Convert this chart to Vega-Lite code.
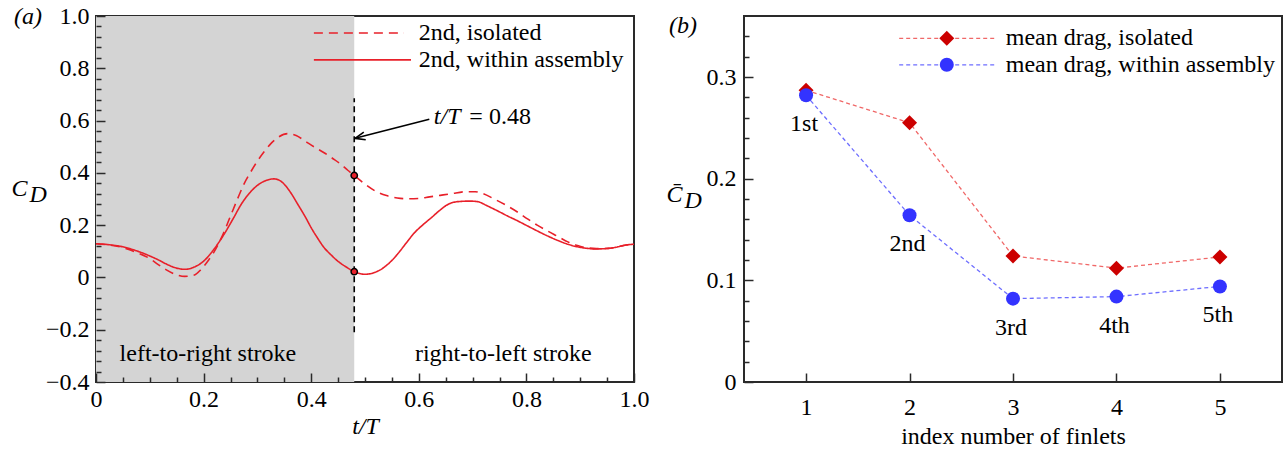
{
  "$schema": "https://vega.github.io/schema/vega-lite/v6.json",
  "background": "white",
  "padding": {"left": 10, "top": 3, "right": 0, "bottom": 0},
  "bounds": "flush",
  "spacing": 110,
  "config": {
    "font": "Liberation Serif",
    "view": {"stroke": "#2a2a2a", "strokeWidth": 2},
    "axis": {"domain": false, "labelFont": "Liberation Serif", "labelFontSize": 24, "labelColor": "#000", "titleFont": "Liberation Serif", "titleFontSize": 24, "titleFontWeight": "normal", "titleColor": "#000", "labelFlush": false},
    "text": {"font": "Liberation Serif", "fontSize": 24, "color": "#000"},
    "title": {"font": "Liberation Serif", "fontSize": 24, "fontWeight": "normal", "color": "#000"}
  },
  "datasets": {
    "cd": [
      {"t":0,"cd":0.129,"series":"2nd, within assembly"},{"t":0.025,"cd":0.125,"series":"2nd, within assembly"},{"t":0.05,"cd":0.117,"series":"2nd, within assembly"},{"t":0.075,"cd":0.102,"series":"2nd, within assembly"},{"t":0.1,"cd":0.082,"series":"2nd, within assembly"},{"t":0.115,"cd":0.068,"series":"2nd, within assembly"},{"t":0.13,"cd":0.052,"series":"2nd, within assembly"},{"t":0.146,"cd":0.038,"series":"2nd, within assembly"},{"t":0.165,"cd":0.031,"series":"2nd, within assembly"},{"t":0.183,"cd":0.04,"series":"2nd, within assembly"},{"t":0.2,"cd":0.062,"series":"2nd, within assembly"},{"t":0.22,"cd":0.11,"series":"2nd, within assembly"},{"t":0.238,"cd":0.165,"series":"2nd, within assembly"},{"t":0.255,"cd":0.225,"series":"2nd, within assembly"},{"t":0.27,"cd":0.28,"series":"2nd, within assembly"},{"t":0.285,"cd":0.322,"series":"2nd, within assembly"},{"t":0.3,"cd":0.352,"series":"2nd, within assembly"},{"t":0.315,"cd":0.37,"series":"2nd, within assembly"},{"t":0.331,"cd":0.377,"series":"2nd, within assembly"},{"t":0.345,"cd":0.366,"series":"2nd, within assembly"},{"t":0.36,"cd":0.33,"series":"2nd, within assembly"},{"t":0.375,"cd":0.28,"series":"2nd, within assembly"},{"t":0.39,"cd":0.228,"series":"2nd, within assembly"},{"t":0.4,"cd":0.19,"series":"2nd, within assembly"},{"t":0.412,"cd":0.15,"series":"2nd, within assembly"},{"t":0.424,"cd":0.114,"series":"2nd, within assembly"},{"t":0.437,"cd":0.086,"series":"2nd, within assembly"},{"t":0.449,"cd":0.063,"series":"2nd, within assembly"},{"t":0.465,"cd":0.04,"series":"2nd, within assembly"},{"t":0.48,"cd":0.022,"series":"2nd, within assembly"},{"t":0.49,"cd":0.015,"series":"2nd, within assembly"},{"t":0.5,"cd":0.012,"series":"2nd, within assembly"},{"t":0.515,"cd":0.017,"series":"2nd, within assembly"},{"t":0.53,"cd":0.031,"series":"2nd, within assembly"},{"t":0.545,"cd":0.055,"series":"2nd, within assembly"},{"t":0.56,"cd":0.088,"series":"2nd, within assembly"},{"t":0.576,"cd":0.13,"series":"2nd, within assembly"},{"t":0.592,"cd":0.171,"series":"2nd, within assembly"},{"t":0.608,"cd":0.202,"series":"2nd, within assembly"},{"t":0.623,"cd":0.228,"series":"2nd, within assembly"},{"t":0.638,"cd":0.255,"series":"2nd, within assembly"},{"t":0.654,"cd":0.279,"series":"2nd, within assembly"},{"t":0.666,"cd":0.288,"series":"2nd, within assembly"},{"t":0.68,"cd":0.291,"series":"2nd, within assembly"},{"t":0.695,"cd":0.292,"series":"2nd, within assembly"},{"t":0.709,"cd":0.29,"series":"2nd, within assembly"},{"t":0.728,"cd":0.273,"series":"2nd, within assembly"},{"t":0.745,"cd":0.256,"series":"2nd, within assembly"},{"t":0.765,"cd":0.235,"series":"2nd, within assembly"},{"t":0.785,"cd":0.215,"series":"2nd, within assembly"},{"t":0.802,"cd":0.197,"series":"2nd, within assembly"},{"t":0.82,"cd":0.178,"series":"2nd, within assembly"},{"t":0.84,"cd":0.158,"series":"2nd, within assembly"},{"t":0.86,"cd":0.14,"series":"2nd, within assembly"},{"t":0.877,"cd":0.127,"series":"2nd, within assembly"},{"t":0.895,"cd":0.117,"series":"2nd, within assembly"},{"t":0.914,"cd":0.111,"series":"2nd, within assembly"},{"t":0.93,"cd":0.109,"series":"2nd, within assembly"},{"t":0.952,"cd":0.111,"series":"2nd, within assembly"},{"t":0.97,"cd":0.117,"series":"2nd, within assembly"},{"t":0.985,"cd":0.124,"series":"2nd, within assembly"},{"t":1,"cd":0.127,"series":"2nd, within assembly"},
      {"t":0,"cd":0.129,"series":"2nd, isolated"},{"t":0.025,"cd":0.124,"series":"2nd, isolated"},{"t":0.05,"cd":0.114,"series":"2nd, isolated"},{"t":0.075,"cd":0.096,"series":"2nd, isolated"},{"t":0.1,"cd":0.072,"series":"2nd, isolated"},{"t":0.115,"cd":0.05,"series":"2nd, isolated"},{"t":0.13,"cd":0.03,"series":"2nd, isolated"},{"t":0.146,"cd":0.013,"series":"2nd, isolated"},{"t":0.165,"cd":0.004,"series":"2nd, isolated"},{"t":0.183,"cd":0.009,"series":"2nd, isolated"},{"t":0.195,"cd":0.03,"series":"2nd, isolated"},{"t":0.207,"cd":0.06,"series":"2nd, isolated"},{"t":0.22,"cd":0.1,"series":"2nd, isolated"},{"t":0.235,"cd":0.16,"series":"2nd, isolated"},{"t":0.251,"cd":0.24,"series":"2nd, isolated"},{"t":0.263,"cd":0.3,"series":"2nd, isolated"},{"t":0.275,"cd":0.357,"series":"2nd, isolated"},{"t":0.288,"cd":0.405,"series":"2nd, isolated"},{"t":0.3,"cd":0.445,"series":"2nd, isolated"},{"t":0.313,"cd":0.482,"series":"2nd, isolated"},{"t":0.325,"cd":0.512,"series":"2nd, isolated"},{"t":0.34,"cd":0.538,"series":"2nd, isolated"},{"t":0.356,"cd":0.55,"series":"2nd, isolated"},{"t":0.372,"cd":0.543,"series":"2nd, isolated"},{"t":0.387,"cd":0.524,"series":"2nd, isolated"},{"t":0.405,"cd":0.5,"series":"2nd, isolated"},{"t":0.424,"cd":0.477,"series":"2nd, isolated"},{"t":0.44,"cd":0.455,"series":"2nd, isolated"},{"t":0.455,"cd":0.433,"series":"2nd, isolated"},{"t":0.468,"cd":0.41,"series":"2nd, isolated"},{"t":0.48,"cd":0.39,"series":"2nd, isolated"},{"t":0.5,"cd":0.357,"series":"2nd, isolated"},{"t":0.517,"cd":0.333,"series":"2nd, isolated"},{"t":0.54,"cd":0.313,"series":"2nd, isolated"},{"t":0.56,"cd":0.304,"series":"2nd, isolated"},{"t":0.58,"cd":0.301,"series":"2nd, isolated"},{"t":0.6,"cd":0.302,"series":"2nd, isolated"},{"t":0.62,"cd":0.308,"series":"2nd, isolated"},{"t":0.64,"cd":0.314,"series":"2nd, isolated"},{"t":0.66,"cd":0.32,"series":"2nd, isolated"},{"t":0.689,"cd":0.328,"series":"2nd, isolated"},{"t":0.705,"cd":0.328,"series":"2nd, isolated"},{"t":0.72,"cd":0.32,"series":"2nd, isolated"},{"t":0.74,"cd":0.3,"series":"2nd, isolated"},{"t":0.765,"cd":0.273,"series":"2nd, isolated"},{"t":0.785,"cd":0.248,"series":"2nd, isolated"},{"t":0.802,"cd":0.224,"series":"2nd, isolated"},{"t":0.82,"cd":0.2,"series":"2nd, isolated"},{"t":0.84,"cd":0.177,"series":"2nd, isolated"},{"t":0.86,"cd":0.155,"series":"2nd, isolated"},{"t":0.877,"cd":0.136,"series":"2nd, isolated"},{"t":0.895,"cd":0.122,"series":"2nd, isolated"},{"t":0.914,"cd":0.113,"series":"2nd, isolated"},{"t":0.93,"cd":0.11,"series":"2nd, isolated"},{"t":0.952,"cd":0.111,"series":"2nd, isolated"},{"t":0.97,"cd":0.117,"series":"2nd, isolated"},{"t":0.985,"cd":0.124,"series":"2nd, isolated"},{"t":1,"cd":0.127,"series":"2nd, isolated"}
    ],
    "mean": [
      {"idx":1,"val":0.287,"series":"isolated"},{"idx":2,"val":0.255,"series":"isolated"},{"idx":3,"val":0.124,"series":"isolated"},{"idx":4,"val":0.112,"series":"isolated"},{"idx":5,"val":0.123,"series":"isolated"},
      {"idx":1,"val":0.282,"series":"assembly","label":"1st"},{"idx":2,"val":0.164,"series":"assembly","label":"2nd"},{"idx":3,"val":0.082,"series":"assembly","label":"3rd"},{"idx":4,"val":0.084,"series":"assembly","label":"4th"},{"idx":5,"val":0.094,"series":"assembly","label":"5th"}
    ]
  },
  "hconcat": [
    {
      "width": 538,
      "height": 366,
      "title": {"text": "(a)", "anchor": "start", "frame": "group", "dx": -82, "offset": -25, "fontStyle": "italic"},
      "resolve": {"scale": {"x": "independent", "y": "independent"}},
      "layer": [
        {
          "layer": [
            {
              "data": {"values": [{}]},
              "mark": {"type": "rect", "color": "#d4d4d4"},
              "encoding": {"x": {"datum": 0, "type": "quantitative"}, "x2": {"datum": 0.48}}
            },
            {
              "data": {"name": "cd"},
              "mark": {"type": "line", "color": "#e8202a", "strokeWidth": 1.6, "interpolate": "monotone"},
              "encoding": {
                "x": {"field": "t", "type": "quantitative", "scale": {"domain": [0, 1], "nice": false, "zero": false},
                  "axis": {
                    "values": [0,0.2,0.4,0.6,0.8,1.0],
                    "labelExpr": "datum.value==0 ? '0' : format(datum.value,'.1f')",
                    "labelOverlap": false, "grid": false, "ticks": true, "tickSize": -9, "tickColor": "#2a2a2a", "tickWidth": 1.5, "zindex": 1,
                    "labelPadding": 14,
                    "title": "t/T", "titleFontStyle": "italic", "titleBaseline": "alphabetic", "titleY": 51
                  }},
                "y": {"field": "cd", "type": "quantitative", "scale": {"domain": [-0.4, 1.0], "nice": false, "zero": false},
                  "axis": {
                    "values": [-0.4,-0.2,0,0.2,0.4,0.6,0.8,1.0],
                    "labelExpr": "abs(datum.value)<0.001 ? '0' : format(datum.value,'.1f')",
                    "labelOverlap": false, "grid": false, "ticks": true, "tickSize": -9, "tickColor": "#2a2a2a", "tickWidth": 1.5, "zindex": 1,
                    "labelPadding": 16,
                    "title": ["C", "\u200b\u00a0\u00a0\u00a0D"], "titleFontStyle": "italic", "titleAngle": 0, "titleAlign": "left", "titleBaseline": "alphabetic", "titleX": -85, "titleY": 179, "titleLineHeight": 6
                  }},
                "strokeDash": {"field": "series", "type": "nominal",
                  "scale": {"domain": ["2nd, isolated", "2nd, within assembly"], "range": [[9, 6], [1, 0]]},
                  "legend": null}
              }
            },
            {
              "data": {"values": [{}]},
              "mark": {"type": "rule", "color": "#000", "strokeWidth": 1.6, "strokeDash": [6, 4]},
              "encoding": {"x": {"datum": 0.48, "type": "quantitative"}, "y": {"datum": -0.21, "type": "quantitative"}, "y2": {"datum": 0.685}}
            },
            {
              "data": {"name": "cd"},
              "transform": [{"filter": "datum.t == 0.48"}],
              "mark": {"type": "point", "filled": true, "fill": "#e8202a", "stroke": "#000", "strokeWidth": 1.5, "size": 40, "opacity": 1},
              "encoding": {"x": {"field": "t", "type": "quantitative"}, "y": {"field": "cd", "type": "quantitative"}}
            },
            {
              "data": {"values": [{}]},
              "mark": {"type": "rule", "color": "#000", "strokeWidth": 1.6},
              "encoding": {"x": {"datum": 0.6195, "type": "quantitative"}, "y": {"datum": 0.605, "type": "quantitative"}, "x2": {"datum": 0.4815}, "y2": {"datum": 0.532}}
            },
            {
              "data": {"values": [{}]},
              "mark": {"type": "point", "shape": "M0,0L2,-0.8M0,0L2,0.8", "filled": false, "stroke": "#000", "strokeWidth": 1.6, "size": 100, "angle": -14, "opacity": 1},
              "encoding": {"x": {"datum": 0.4815, "type": "quantitative"}, "y": {"datum": 0.532, "type": "quantitative"}}
            },
            {
              "data": {"values": [{}]},
              "mark": {"type": "text", "align": "left", "baseline": "middle", "fontStyle": "italic"},
              "encoding": {"x": {"datum": 0.628, "type": "quantitative"}, "y": {"datum": 0.614, "type": "quantitative"}, "text": {"value": "t/T"}}
            },
            {
              "data": {"values": [{}]},
              "mark": {"type": "text", "align": "left", "baseline": "middle"},
              "encoding": {"x": {"datum": 0.694, "type": "quantitative"}, "y": {"datum": 0.614, "type": "quantitative"}, "text": {"value": "= 0.48"}}
            },
            {
              "data": {"values": [{}]},
              "mark": {"type": "text", "align": "center", "baseline": "middle"},
              "encoding": {"x": {"datum": 0.208, "type": "quantitative"}, "y": {"datum": -0.293, "type": "quantitative"}, "text": {"value": "left-to-right stroke"}}
            },
            {
              "data": {"values": [{}]},
              "mark": {"type": "text", "align": "center", "baseline": "middle"},
              "encoding": {"x": {"datum": 0.757, "type": "quantitative"}, "y": {"datum": -0.293, "type": "quantitative"}, "text": {"value": "right-to-left stroke"}}
            },
            {
              "data": {"values": [{}]},
              "mark": {"type": "rule", "color": "#e8202a", "strokeWidth": 1.6, "strokeDash": [9, 6]},
              "encoding": {"x": {"datum": 0.405, "type": "quantitative"}, "x2": {"datum": 0.5725}, "y": {"datum": 0.935, "type": "quantitative"}}
            },
            {
              "data": {"values": [{}]},
              "mark": {"type": "text", "align": "left", "baseline": "middle"},
              "encoding": {"x": {"datum": 0.6, "type": "quantitative"}, "y": {"datum": 0.935, "type": "quantitative"}, "text": {"value": "2nd, isolated"}}
            },
            {
              "data": {"values": [{}]},
              "mark": {"type": "rule", "color": "#e8202a", "strokeWidth": 1.6},
              "encoding": {"x": {"datum": 0.405, "type": "quantitative"}, "x2": {"datum": 0.5855}, "y": {"datum": 0.832, "type": "quantitative"}}
            },
            {
              "data": {"values": [{}]},
              "mark": {"type": "text", "align": "left", "baseline": "middle"},
              "encoding": {"x": {"datum": 0.6, "type": "quantitative"}, "y": {"datum": 0.832, "type": "quantitative"}, "text": {"value": "2nd, within assembly"}}
            }
          ]
        },
        {
          "data": {"values": [{}]},
          "mark": {"type": "point", "opacity": 0},
          "encoding": {
            "x": {"datum": 0.5, "type": "quantitative", "scale": {"domain": [0, 1], "nice": false, "zero": false},
              "axis": {"orient": "bottom", "values": [0.05,0.1,0.15,0.25,0.3,0.35,0.45,0.5,0.55,0.65,0.7,0.75,0.85,0.9,0.95], "labels": false, "grid": false, "ticks": true, "tickSize": -5, "tickColor": "#2a2a2a", "tickWidth": 1.5, "zindex": 1, "title": null}},
            "y": {"datum": 0.3, "type": "quantitative", "scale": {"domain": [-0.4, 1.0], "nice": false, "zero": false},
              "axis": {"orient": "left", "values": [-0.36,-0.32,-0.28,-0.24,-0.16,-0.12,-0.08,-0.04,0.04,0.08,0.12,0.16,0.24,0.28,0.32,0.36,0.44,0.48,0.52,0.56,0.64,0.68,0.72,0.76,0.84,0.88,0.92,0.96], "labels": false, "grid": false, "ticks": true, "tickSize": -5, "tickColor": "#2a2a2a", "tickWidth": 1.5, "zindex": 1, "title": null}}
          }
        }
      ]
    },
    {
      "width": 538,
      "height": 366,
      "title": {"text": "(b)", "anchor": "start", "frame": "group", "dx": -75, "offset": -22, "fontStyle": "italic"},
      "resolve": {"scale": {"y": "independent"}},
      "layer": [
        {
          "layer": [
            {
              "data": {"name": "mean"},
              "transform": [{"filter": "datum.series == 'isolated'"}],
              "mark": {"type": "line", "color": "#f06868", "strokeWidth": 1.3, "strokeDash": [4, 3]},
              "encoding": {
                "x": {"field": "idx", "type": "quantitative", "scale": {"domain": [0.4, 5.6], "nice": false, "zero": false},
                  "axis": {"values": [1,2,3,4,5], "format": "d", "labelOverlap": false, "grid": false, "ticks": true, "tickSize": -9, "tickColor": "#2a2a2a", "tickWidth": 1.5, "zindex": 1, "labelPadding": 22, "title": "index number of finlets", "titleBaseline": "alphabetic", "titleY": 61}},
                "y": {"field": "val", "type": "quantitative", "scale": {"domain": [0, 0.36], "nice": false, "zero": false},
                  "axis": {
                    "values": [0,0.1,0.2,0.3],
                    "labelExpr": "abs(datum.value)<0.001 ? '0' : format(datum.value,'.1f')",
                    "labelOverlap": false, "grid": false, "ticks": true, "tickSize": -9, "tickColor": "#2a2a2a", "tickWidth": 1.5, "zindex": 1,
                    "labelPadding": 17,
                    "title": ["C\u0304", "\u200b\u00a0\u00a0\u00a0D"], "titleFontStyle": "italic", "titleAngle": 0, "titleAlign": "left", "titleBaseline": "alphabetic", "titleX": -78, "titleY": 185, "titleLineHeight": 6
                  }}
              }
            },
            {
              "data": {"name": "mean"},
              "transform": [{"filter": "datum.series == 'assembly'"}],
              "mark": {"type": "line", "color": "#6e6eff", "strokeWidth": 1.3, "strokeDash": [4, 3]},
              "encoding": {"x": {"field": "idx", "type": "quantitative"}, "y": {"field": "val", "type": "quantitative"}}
            },
            {
              "data": {"name": "mean"},
              "transform": [{"filter": "datum.series == 'isolated'"}],
              "mark": {"type": "point", "shape": "diamond", "filled": true, "color": "#cc0000", "size": 225, "opacity": 1},
              "encoding": {"x": {"field": "idx", "type": "quantitative"}, "y": {"field": "val", "type": "quantitative"}}
            },
            {
              "data": {"name": "mean"},
              "transform": [{"filter": "datum.series == 'assembly'"}],
              "mark": {"type": "point", "shape": "circle", "filled": true, "color": "#3333ff", "size": 196, "opacity": 1},
              "encoding": {"x": {"field": "idx", "type": "quantitative"}, "y": {"field": "val", "type": "quantitative"}}
            },
            {
              "data": {"name": "mean"},
              "transform": [{"filter": "datum.series == 'assembly'"}],
              "mark": {"type": "text", "align": "center", "baseline": "middle", "dy": 29, "dx": -2},
              "encoding": {"x": {"field": "idx", "type": "quantitative"}, "y": {"field": "val", "type": "quantitative"}, "text": {"field": "label"}}
            },
            {
              "data": {"values": [{}]},
              "mark": {"type": "rule", "color": "#f06868", "strokeWidth": 1.3, "strokeDash": [4, 3]},
              "encoding": {"x": {"datum": 1.9, "type": "quantitative"}, "x2": {"datum": 2.82}, "y": {"datum": 0.338, "type": "quantitative"}}
            },
            {
              "data": {"values": [{}]},
              "mark": {"type": "point", "shape": "diamond", "filled": true, "color": "#cc0000", "size": 225, "opacity": 1},
              "encoding": {"x": {"datum": 2.36, "type": "quantitative"}, "y": {"datum": 0.338, "type": "quantitative"}}
            },
            {
              "data": {"values": [{}]},
              "mark": {"type": "text", "align": "left", "baseline": "middle"},
              "encoding": {"x": {"datum": 2.93, "type": "quantitative"}, "y": {"datum": 0.338, "type": "quantitative"}, "text": {"value": "mean drag, isolated"}}
            },
            {
              "data": {"values": [{}]},
              "mark": {"type": "rule", "color": "#6e6eff", "strokeWidth": 1.3, "strokeDash": [4, 3]},
              "encoding": {"x": {"datum": 1.9, "type": "quantitative"}, "x2": {"datum": 2.82}, "y": {"datum": 0.312, "type": "quantitative"}}
            },
            {
              "data": {"values": [{}]},
              "mark": {"type": "point", "shape": "circle", "filled": true, "color": "#3333ff", "size": 196, "opacity": 1},
              "encoding": {"x": {"datum": 2.36, "type": "quantitative"}, "y": {"datum": 0.312, "type": "quantitative"}}
            },
            {
              "data": {"values": [{}]},
              "mark": {"type": "text", "align": "left", "baseline": "middle"},
              "encoding": {"x": {"datum": 2.93, "type": "quantitative"}, "y": {"datum": 0.312, "type": "quantitative"}, "text": {"value": "mean drag, within assembly"}}
            }
          ]
        },
        {
          "data": {"values": [{}]},
          "mark": {"type": "point", "opacity": 0},
          "encoding": {
            "x": {"datum": 3, "type": "quantitative"},
            "y": {"datum": 0.1, "type": "quantitative", "scale": {"domain": [0, 0.36], "nice": false, "zero": false},
              "axis": {"orient": "left", "values": [0.02,0.04,0.06,0.08,0.12,0.14,0.16,0.18,0.22,0.24,0.26,0.28,0.32,0.34], "labels": false, "grid": false, "ticks": true, "tickSize": -5, "tickColor": "#2a2a2a", "tickWidth": 1.5, "zindex": 1, "title": null}}
          }
        }
      ]
    }
  ]
}
